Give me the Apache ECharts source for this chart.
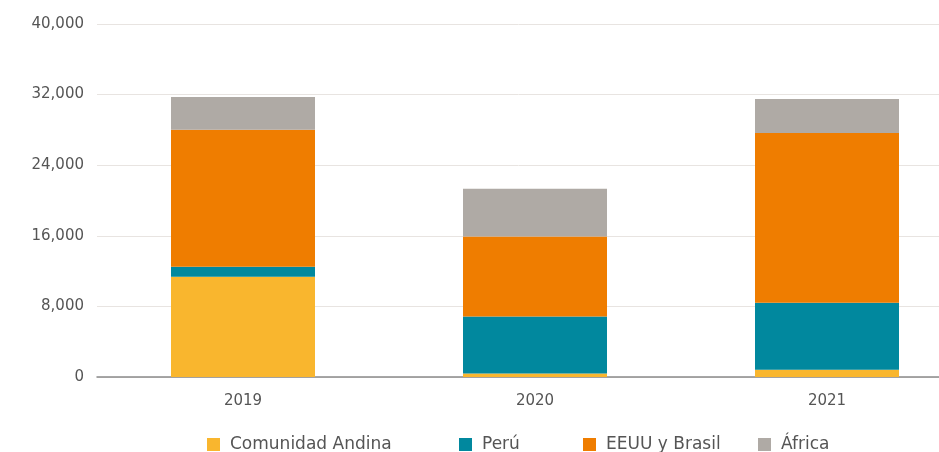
<!DOCTYPE html>
<html>
<head>
<meta charset="utf-8">
<script src="https://cdn.jsdelivr.net/npm/echarts@6/dist/echarts.min.js"></script>
<style>
html, body { margin: 0; padding: 0; background: #fff; }
#chart { width: 939px; height: 452px; }
</style>
</head>
<body>
<div id="chart"></div>
<script>
var years = ['2019', '2020', '2021'];
var andina = [11350, 400, 830];
var peru = [1140, 6460, 7580];
var eeuuBrasil = [15540, 9060, 19250];
var africa = [3700, 5400, 3850];
var yTicks = [0, 8000, 16000, 24000, 32000, 40000];

var names = ['Comunidad Andina', 'Perú', 'EEUU y Brasil', 'África'];
var colors = ['#F9B62E', '#01889E', '#EF7D00', '#AFAAA5'];
var values = [andina, peru, eeuuBrasil, africa];
var legendLeft = [207, 459, 583, 758];

var font = '"DejaVu Sans", sans-serif';

var myChart = echarts.init(document.getElementById('chart'));
myChart.setOption({
    animation: false,
    grid: {left: 97, top: 24, width: 876, height: 353, outerBoundsMode: 'none'},
    legend: names.map(function (n, i) {
        return {
            data: [n],
            left: legendLeft[i],
            top: 436,
            padding: 0,
            icon: 'rect',
            itemWidth: 13,
            itemHeight: 13,
            itemGap: 0,
            textStyle: {fontFamily: font, fontSize: 17, color: '#555', padding: [0, 0, 0, 5]}
        };
    }),
    xAxis: {
        type: 'category',
        data: years,
        axisLine: {lineStyle: {color: '#8a8a8a', width: 1.5}},
        axisTick: {show: false},
        axisLabel: {fontFamily: font, fontSize: 15, color: '#555', margin: 17}
    },
    yAxis: {
        type: 'value',
        min: yTicks[0],
        max: yTicks[yTicks.length - 1],
        interval: 8000,
        axisLine: {show: false},
        axisTick: {show: false},
        splitLine: {lineStyle: {color: '#E8E4E1', width: 1}},
        axisLabel: {
            fontFamily: font, fontSize: 15, color: '#555', margin: 13,
            formatter: function (v) { return v.toLocaleString('en-US'); }
        }
    },
    series: names.map(function (n, i) {
        return {
            name: n,
            type: 'bar',
            stack: 'total',
            barWidth: 144,
            itemStyle: {color: colors[i]},
            data: values[i]
        };
    })
});
</script>
</body>
</html>
